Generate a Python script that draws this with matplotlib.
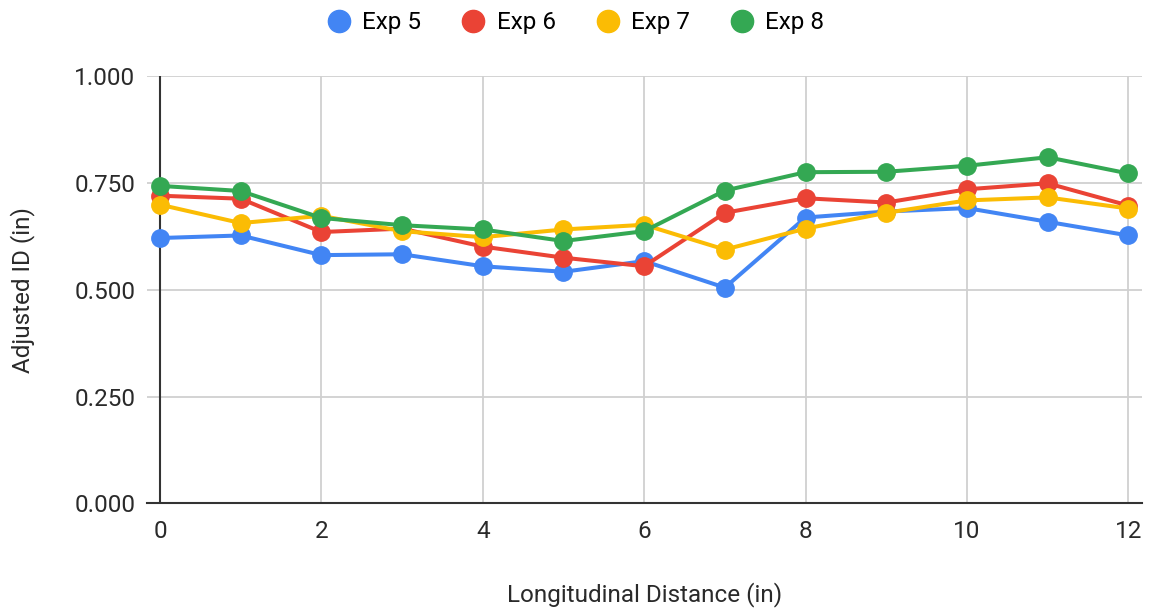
"""Adjusted ID along the longitudinal distance for experiments 5-8."""

import matplotlib
matplotlib.use("Agg")
import matplotlib.pyplot as plt
from matplotlib.lines import Line2D

distance = list(range(13))

exp5 = [0.621, 0.627, 0.581, 0.583, 0.555, 0.542, 0.567, 0.505, 0.669, 0.683, 0.691, 0.659, 0.627]
exp6 = [0.720, 0.713, 0.635, 0.643, 0.601, 0.575, 0.555, 0.680, 0.714, 0.704, 0.735, 0.749, 0.697]
exp7 = [0.699, 0.656, 0.673, 0.637, 0.623, 0.641, 0.652, 0.594, 0.643, 0.680, 0.709, 0.716, 0.690]
exp8 = [0.743, 0.731, 0.668, 0.651, 0.641, 0.614, 0.637, 0.732, 0.775, 0.776, 0.790, 0.810, 0.772]

series = [
    ("Exp 5", exp5, "#4285F4"),
    ("Exp 6", exp6, "#EA4335"),
    ("Exp 7", exp7, "#FBBC04"),
    ("Exp 8", exp8, "#34A853"),
]

y_ticks = [0.0, 0.25, 0.5, 0.75, 1.0]
x_ticks = [0, 2, 4, 6, 8, 10, 12]

plt.rcParams["font.family"] = ["Roboto", "DejaVu Sans"]
text_color = "#2a2a2a"
font_size = 17.5

fig = plt.figure(figsize=(11.51, 6.10), dpi=100)
ax = fig.add_axes([0.1273, 0.1746, 0.8649, 0.7008])

grid_color = "#d0d0d0"
for y in y_ticks:
    ax.axhline(y, color=grid_color, lw=1.3, zorder=0)
for x in x_ticks[1:]:
    ax.axvline(x, color=grid_color, lw=1.3, zorder=0)
ax.axvline(0, color="#333333", lw=1.5, zorder=1)

for name, values, color in series:
    ax.plot(distance, values, color=color, lw=2.9, marker="o", ms=12.5,
            label=name, zorder=3, solid_capstyle="round")

ax.set_xlim(-0.167, 12.17)
ax.set_ylim(0, 1.0)
ax.set_xticks(x_ticks)
ax.set_yticks(y_ticks)
ax.set_yticklabels([f"{v:.3f}" for v in y_ticks])
ax.tick_params(axis="both", length=0, labelsize=font_size, colors=text_color)
ax.tick_params(axis="x", pad=12)
ax.tick_params(axis="y", pad=8)

for side in ["top", "right", "left"]:
    ax.spines[side].set_visible(False)
ax.spines["bottom"].set_color("#333333")
ax.spines["bottom"].set_linewidth(1.5)

ax.set_xlabel("Longitudinal Distance (in)", fontsize=font_size, color=text_color)
ax.set_ylabel("Adjusted ID (in)", fontsize=font_size, color=text_color)
ax.xaxis.set_label_coords(0.5, -0.214)
ax.xaxis.label.set_va("center")
ax.yaxis.set_label_coords(-0.125, 0.5)
ax.yaxis.label.set_va("center")

handles = [
    Line2D([], [], color=color, marker="o", ls="none", ms=16, label=name)
    for name, _, color in series
]
fig.legend(handles=handles, loc="center", bbox_to_anchor=(0.5, 0.963), ncol=4,
           frameon=False, fontsize=font_size, handletextpad=0.45, columnspacing=1.65,
           handlelength=1.0)

fig.savefig("out.png", dpi=100)
